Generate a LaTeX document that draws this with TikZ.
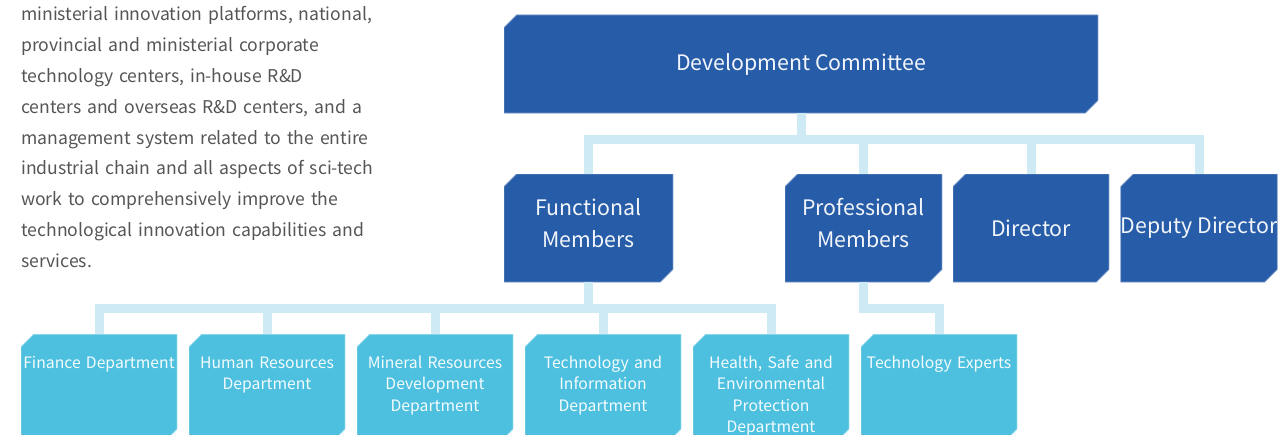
\documentclass[tikz,border=0pt]{standalone}
\usepackage{fontspec}
\setmainfont{Noto Sans CJK SC}
\usepackage{tikz}
\usetikzlibrary{positioning}
\usepackage{xcolor}

\definecolor{deepblue}{HTML}{275CA8}
\definecolor{skyblue}{HTML}{4DC0DF}
\definecolor{linkblue}{HTML}{CDEAF5}
\definecolor{bodygray}{HTML}{555555}

\tikzset{
  cutbox/.style={path picture={
    \filldraw[fill=#1, draw=#1!65!white, line width=0.6pt]
      ([yshift=-9.5pt]path picture bounding box.north west)
      -- ([xshift=9.5pt]path picture bounding box.north west)
      -- (path picture bounding box.north east)
      -- ([yshift=9.5pt]path picture bounding box.south east)
      -- ([xshift=-9.5pt]path picture bounding box.south east)
      -- (path picture bounding box.south west) -- cycle;}},
  topbox/.style={cutbox=deepblue, inner sep=0pt, align=center,
    text=white!94!deepblue, font=\fontsize{16}{24}\selectfont,
    minimum height=81pt},
  twoline/.style={text width=#1, text height=10pt, text depth=29.5pt},
  deptbox/.style={cutbox=skyblue, inner ysep=0pt, inner xsep=-4pt, anchor=north,
    text width=125pt, align=center, text height=25.5pt, text depth=55pt,
    text=white!94!skyblue, font=\fontsize{11.8}{16.1}\selectfont},
  link/.style={linkblue, line width=6.75pt, line join=miter}
}

\begin{document}
\begin{tikzpicture}[x=0.75pt, y=-0.75pt]
        \useasboundingbox (0,0) rectangle (1281,435);
        \clip (0,0) rectangle (1281,435);

        % Intro text
        \node[anchor=base west, text width=330pt, align=left, inner sep=0pt,
              text=bodygray, font=\fontsize{13.2}{23.1}\selectfont] (intro) at (21,21)
          {ministerial innovation platforms, national,\\
           provincial and ministerial corporate\\
           technology centers, in-house R\&D\\
           centers and overseas R\&D centers, and a\\
           management system related to the entire\\
           industrial chain and all aspects of sci-tech\\
           work to comprehensively improve the\\
           technological innovation capabilities and\\
           services.};

        % Committee and members
        \node[topbox, minimum width=445.5pt, minimum height=73.5pt] (dc) at (801,64) {Development Committee};
        \node[topbox, twoline=126.75pt] (fm) at (588.5,228) {Functional\\Members};
        \node[topbox, twoline=117.75pt] (pm) at (863.5,228) {Professional\\Members};
        \node[topbox, minimum width=117pt] (dir) at (1031,228) {Director};
        \node[topbox, minimum width=117pt] (dd) at (1199,228) {Deputy Director};

        % Departments
        \node[deptbox] (fin) at (99,334) {Finance Department};
        \node[deptbox] (hr) at (267,334) {Human Resources\\Department};
        \node[deptbox] (mr) at (435,334) {Mineral Resources\\Development\\Department};
        \node[deptbox] (ti) at (603,334) {Technology and\\Information\\Department};
        \node[deptbox] (hse) at (771,334) {Health, Safe and\\Environmental\\Protection\\Department};
        \node[deptbox] (te) at (939,334) {Technology Experts};

        % Bus lines
        \coordinate (bus1) at (0,139);
        \coordinate (bus2) at (0,308.5);

        \draw[link] (dc.south) -- (dc.south |- bus1);
        \draw[link] (fm.north) -- (fm.north |- bus1) -- (dd.north |- bus1) -- (dd.north);
        \foreach \n in {pm,dir}
            \draw[link] (\n.north) -- (\n.north |- bus1);

        \draw[link] (fm.south) -- (fm.south |- bus2);
        \draw[link] (fin.north) -- (fin.north |- bus2) -- (hse.north |- bus2) -- (hse.north);
        \foreach \n in {hr,mr,ti}
            \draw[link] (\n.north) -- (\n.north |- bus2);
        \draw[link] (pm.south) -- (pm.south |- bus2) -- (te.north |- bus2) -- (te.north);
    \end{tikzpicture}
\end{document}
